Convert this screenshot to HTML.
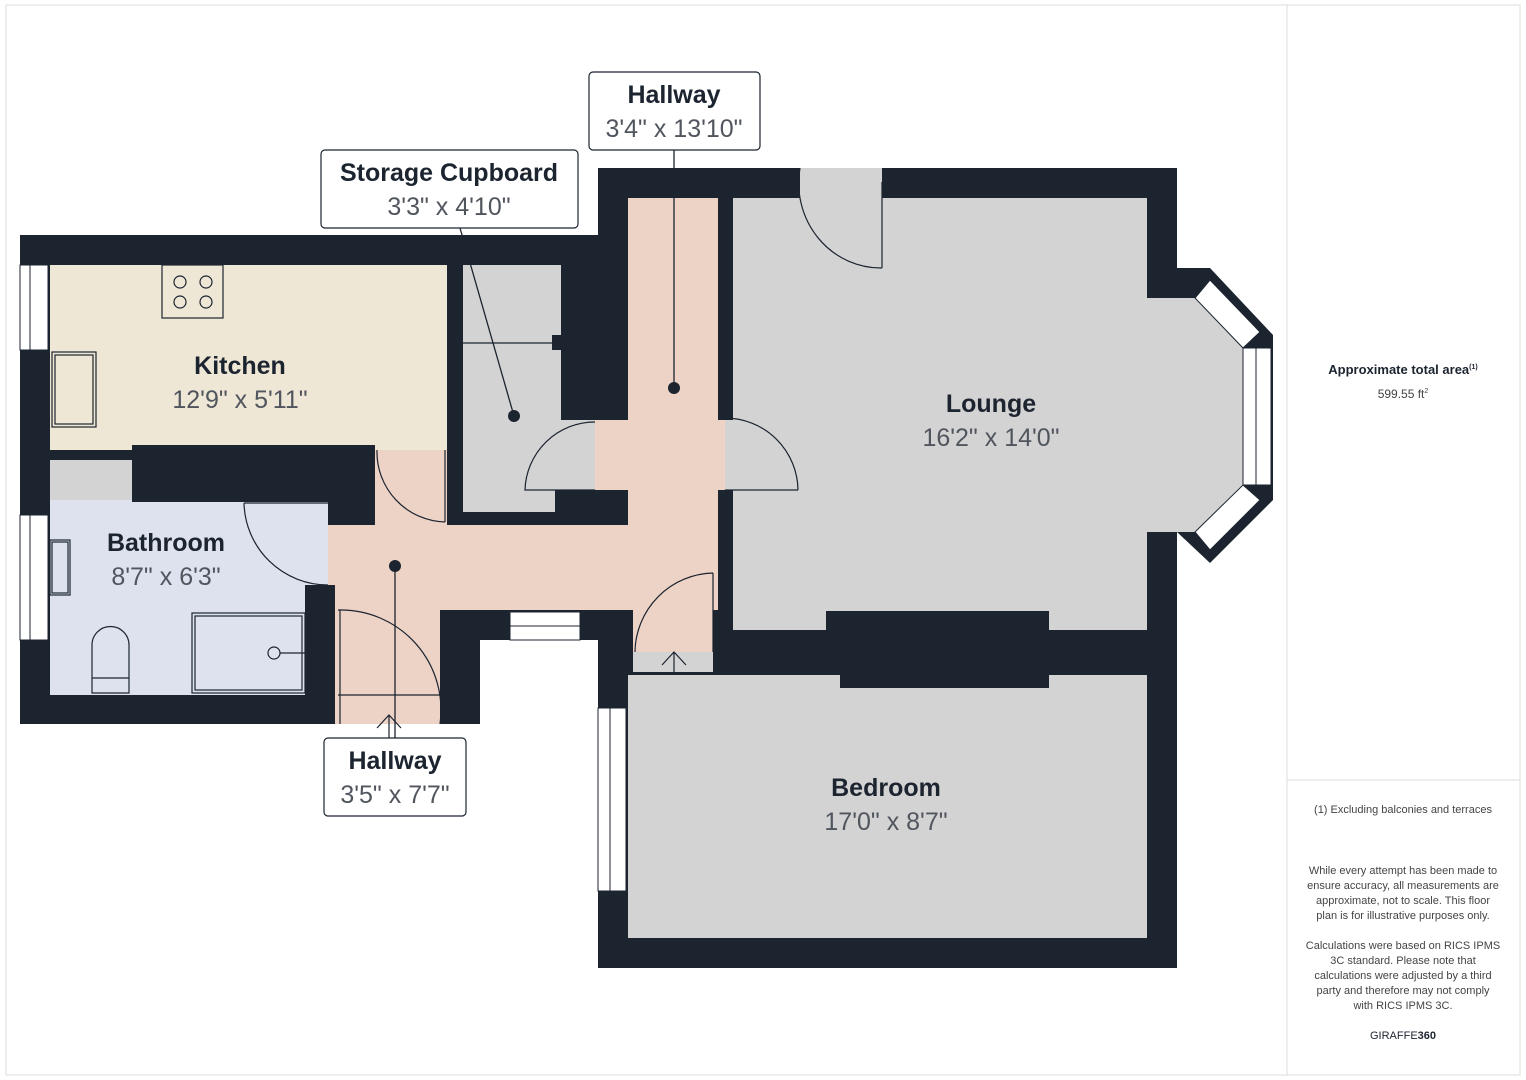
<!DOCTYPE html>
<html><head><meta charset="utf-8"><style>
html,body{margin:0;padding:0;background:#fff;}
svg{display:block;font-family:"Liberation Sans",sans-serif;}
.t{font-weight:bold;fill:#1c2430;}
.d{fill:#50555e;}
.s{fill:#444;font-size:11px;}
</style></head><body>
<svg width="1526" height="1080" viewBox="0 0 1526 1080">
<rect x="6" y="5" width="1514" height="1070" fill="#fff" stroke="#ddd"/>
<line x1="1287" y1="5" x2="1287" y2="1075" stroke="#ddd"/>
<line x1="1287" y1="780" x2="1520" y2="780" stroke="#ddd"/>
<!-- footprint -->
<polygon fill="#1c2430" points="20,235 598,235 598,168 1177,168 1177,268 1210,268 1273,335 1273,500 1210,563 1177,532 1177,968 598,968 598,640 480,640 480,724 440,724 440,724 335,724 20,724"/>
<!-- kitchen -->
<rect x="50" y="265" width="397" height="185" fill="#efe7d5"/>
<!-- hallway pink -->
<g fill="#ecd3c6">
<rect x="628" y="198" width="90" height="412"/>
<rect x="328" y="525" width="390" height="85"/>
<rect x="375" y="450" width="72" height="80"/>
<rect x="335" y="605" width="105" height="119"/>
<rect x="595" y="420" width="130" height="70"/>
<rect x="633" y="605" width="80" height="47"/>
</g>
<rect x="633" y="652" width="80" height="20" fill="#d3d3d3"/>
<!-- storage -->
<rect x="463" y="265" width="98" height="247" fill="#d3d3d3"/>
<rect x="525" y="420" width="70" height="70" fill="#d3d3d3"/>
<rect x="555" y="490" width="73" height="35" fill="#1c2430"/>
<rect x="552" y="335" width="12" height="15" fill="#1c2430"/>
<!-- bathroom -->
<rect x="50" y="500" width="278" height="195" fill="#dde2ee"/>
<rect x="50" y="460" width="82" height="40" fill="#d3d3d3"/>
<rect x="132" y="445" width="243" height="57" fill="#1c2430"/>
<rect x="305" y="585" width="30" height="110" fill="#1c2430"/>
<!-- lounge -->
<polygon fill="#d3d3d3" points="733,198 1147,198 1147,298 1195,298 1243,348 1243,485 1195,532 1147,532 1147,630 733,630"/>
<rect x="800" y="168" width="82" height="32" fill="#d3d3d3"/>
<rect x="725" y="420" width="30" height="70" fill="#d3d3d3"/>
<rect x="826" y="611" width="223" height="30" fill="#1c2430"/>
<!-- bedroom -->
<rect x="628" y="675" width="519" height="263" fill="#d3d3d3"/>
<rect x="840" y="640" width="209" height="48" fill="#1c2430"/>
<!-- windows -->
<g fill="#fff" stroke="#1c2430" stroke-width="1">
<rect x="20" y="265" width="28" height="85"/><line x1="30" y1="265" x2="30" y2="350"/>
<rect x="20" y="515" width="28" height="125"/><line x1="30" y1="515" x2="30" y2="640"/>
<rect x="598" y="708" width="28" height="183"/><line x1="610" y1="708" x2="610" y2="891"/>
<rect x="510" y="612" width="70" height="28"/><line x1="510" y1="626" x2="580" y2="626"/>
<rect x="1243" y="348" width="28" height="137"/><line x1="1256" y1="348" x2="1256" y2="485"/>
<polygon points="1210,280 1260,332 1243,348 1195,298"/>
<polygon points="1195,532 1243,485 1260,500 1210,550"/>
</g>
<!-- fixtures -->
<g fill="none" stroke="#1c2430" stroke-width="1.2">
<rect x="162" y="265" width="61" height="53"/>
<circle cx="180" cy="282" r="6"/><circle cx="206" cy="282" r="6"/><circle cx="180" cy="302" r="6"/><circle cx="206" cy="302" r="6"/>
<rect x="52" y="352" width="44" height="75"/><rect x="55" y="355" width="38" height="69"/>
<rect x="50" y="540" width="20" height="55"/><rect x="52" y="542" width="16" height="51"/>
<path d="M92,678 V645 a18,18 0 0 1 37,0 V678 M92,678 H129 V693 H92Z"/>
<rect x="192" y="613" width="113" height="80"/><rect x="195" y="616" width="107" height="74"/>
<circle cx="274" cy="653" r="6"/><line x1="280" y1="653" x2="305" y2="653"/>
<path d="M244,503 H328 M244,503 A84,84 0 0 0 328,585"/>
<path d="M377,450 A70,70 0 0 0 445,522 M445,450 V522"/>
<path d="M338,610 H340 A100,100 0 0 1 440,724 M340,610 V724 M338,695 H440"/>
<path d="M800,168 A82,85 0 0 0 882,268 M882,182 V268"/>
<path d="M725,418 A73,73 0 0 1 798,490 M725,490 H798"/>
<path d="M595,422 A70,70 0 0 0 525,490 H595"/>
<path d="M713,573 A80,80 0 0 0 635,652 M713,573 V652"/>
<path d="M463,343 H552"/>
<path d="M674,672 V652 M662,665 L674,652 L686,665"/>
<path d="M389,738 V715 M377,728 L389,715 L401,728"/>
</g>
<!-- leader lines -->
<g stroke="#1c2430" stroke-width="1.3">
<line x1="674" y1="150" x2="674" y2="388"/>
<line x1="460" y1="228" x2="514" y2="416"/>
<line x1="395" y1="566" x2="395" y2="738"/>
</g>
<circle cx="674" cy="388" r="6" fill="#1c2430"/>
<circle cx="514" cy="416" r="6" fill="#1c2430"/>
<circle cx="395" cy="566" r="6" fill="#1c2430"/>
<!-- labels -->
<g fill="#fff" stroke="#1c2430" stroke-width="1.2">
<rect x="589" y="72" width="171" height="78" rx="4"/>
<rect x="321" y="150" width="257" height="78" rx="4"/>
<rect x="324" y="738" width="142" height="78" rx="4"/>
</g>
<g text-anchor="middle">
<text class="t" x="674" y="103" font-size="25">Hallway</text>
<text class="d" x="674" y="137" font-size="25">3'4" x 13'10"</text>
<text class="t" x="449" y="181" font-size="25">Storage Cupboard</text>
<text class="d" x="449" y="215" font-size="25">3'3" x 4'10"</text>
<text class="t" x="395" y="769" font-size="25">Hallway</text>
<text class="d" x="395" y="803" font-size="25">3'5" x 7'7"</text>
<text class="t" x="240" y="374" font-size="25">Kitchen</text>
<text class="d" x="240" y="408" font-size="25">12'9" x 5'11"</text>
<text class="t" x="166" y="551" font-size="25">Bathroom</text>
<text class="d" x="166" y="585" font-size="25">8'7" x 6'3"</text>
<text class="t" x="991" y="412" font-size="25">Lounge</text>
<text class="d" x="991" y="446" font-size="25">16'2" x 14'0"</text>
<text class="t" x="886" y="796" font-size="25">Bedroom</text>
<text class="d" x="886" y="830" font-size="25">17'0" x 8'7"</text>
<text x="1403" y="374" font-size="13" font-weight="bold" fill="#1c2430">Approximate total area<tspan font-size="7" dy="-5">(1)</tspan></text>
<text x="1403" y="398" font-size="12" fill="#444">599.55 ft<tspan font-size="7" dy="-5">2</tspan></text>
<text class="s" x="1403" y="813">(1) Excluding balconies and terraces</text>
<text class="s" x="1403" y="874">While every attempt has been made to</text>
<text class="s" x="1403" y="889">ensure accuracy, all measurements are</text>
<text class="s" x="1403" y="904">approximate, not to scale. This floor</text>
<text class="s" x="1403" y="919">plan is for illustrative purposes only.</text>
<text class="s" x="1403" y="949">Calculations were based on RICS IPMS</text>
<text class="s" x="1403" y="964">3C standard. Please note that</text>
<text class="s" x="1403" y="979">calculations were adjusted by a third</text>
<text class="s" x="1403" y="994">party and therefore may not comply</text>
<text class="s" x="1403" y="1009">with RICS IPMS 3C.</text>
<text x="1403" y="1039" font-size="11" fill="#1c2430">GIRAFFE<tspan font-weight="bold">360</tspan></text>
</g>
</svg>
</body></html>
